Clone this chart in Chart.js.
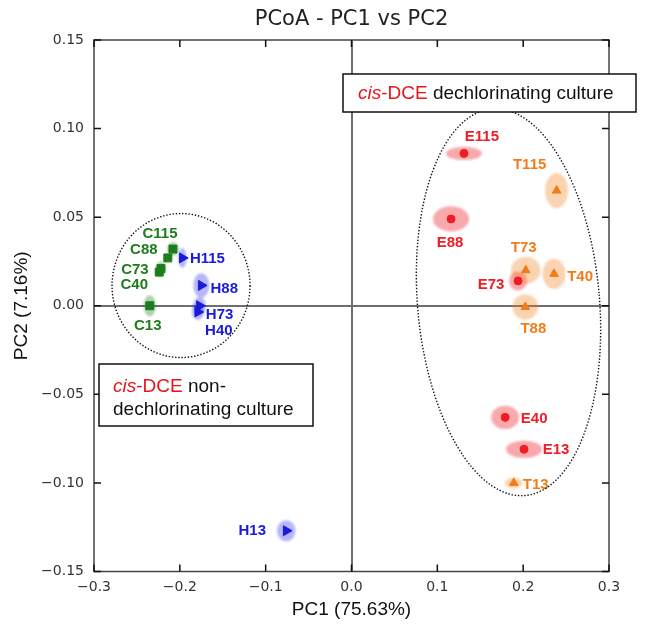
<!DOCTYPE html>
<html>
<head>
<meta charset="utf-8">
<title>PCoA - PC1 vs PC2</title>
<script src="https://cdn.jsdelivr.net/npm/chart.js@4.4.1/dist/chart.umd.min.js"></script>
<style>
  html, body { margin: 0; padding: 0; background: #fff; }
  #wrap { width: 650px; height: 634px; }
</style>
</head>
<body>
<div id="wrap"><canvas id="pcoa" width="650" height="634"></canvas></div>
<script>
// Axis ticks
const xTicks = [-0.3, -0.2, -0.1, 0.0, 0.1, 0.2, 0.3];
const yTicks = [-0.15, -0.10, -0.05, 0.00, 0.05, 0.10, 0.15];

// C samples (green squares)
const cNames = ['C115', 'C88', 'C73', 'C40', 'C13'];
const cPC1 = [-0.208, -0.214, -0.222, -0.224, -0.235];
const cPC2 = [0.032, 0.027, 0.021, 0.019, 0.000];
const cSpreadPC1 = [0.0070, 0.0047, 0.0058, 0.0047, 0.0070];
const cSpreadPC2 = [0.0038, 0.0023, 0.0040, 0.0028, 0.0059];

// H samples (blue triangles, pointing right)
const hNames = ['H115', 'H88', 'H73', 'H40', 'H13'];
const hPC1 = [-0.197, -0.175, -0.177, -0.179, -0.076];
const hPC2 = [0.027, 0.0115, 0.000, -0.0035, -0.127];
const hSpreadPC1 = [0.0049, 0.0093, 0.0073, 0.0070, 0.0108];
const hSpreadPC2 = [0.0056, 0.0069, 0.0051, 0.0045, 0.0059];

// E samples (red circles)
const eNames = ['E115', 'E88', 'E73', 'E40', 'E13'];
const ePC1 = [0.131, 0.116, 0.194, 0.179, 0.201];
const ePC2 = [0.086, 0.049, 0.014, -0.063, -0.081];
const eSpreadPC1 = [0.0210, 0.0210, 0.0105, 0.0163, 0.0210];
const eSpreadPC2 = [0.0038, 0.0071, 0.0054, 0.0066, 0.0049];

// T samples (orange triangles)
const tNames = ['T115', 'T73', 'T40', 'T88', 'T13'];
const tPC1 = [0.239, 0.203, 0.236, 0.2025, 0.189];
const tPC2 = [0.065, 0.020, 0.018, -0.0007, -0.100];
const tSpreadPC1 = [0.0134, 0.0171, 0.0134, 0.0148, 0.0105];
const tSpreadPC2 = [0.0099, 0.0076, 0.0085, 0.0072, 0.0030];

// label placement next to each marker (pixels)
const labelOffsets = {
  C: [[-13, -15], [-24, -8], [-26, 1], [-25, 13], [-2, 20]],
  H: [[25, 1], [23, 3], [20, 9], [21, 19], [-34, 0]],
  E: [[18, -17], [-1, 24], [-27, 4], [29, 1], [32, 1]],
  T: [[-27, -26], [-2, -22], [26, 3], [8, 22], [22, 2]]
};

const toPoints = (xs, ys) => xs.map((x, i) => ({ x: x, y: ys[i] }));

const groups = [
  { key: 'C', names: cNames, xs: cPC1, ys: cPC2, sx: cSpreadPC1, sy: cSpreadPC2,
    color: '#1d7d1d', halo: 'rgba(29,125,29,0.36)', style: 'rect', radius: 5.6, rotation: 0 },
  { key: 'H', names: hNames, xs: hPC1, ys: hPC2, sx: hSpreadPC1, sy: hSpreadPC2,
    color: '#1a1adc', halo: 'rgba(40,40,235,0.34)', style: 'triangle', radius: 5.8, rotation: 90 },
  { key: 'E', names: eNames, xs: ePC1, ys: ePC2, sx: eSpreadPC1, sy: eSpreadPC2,
    color: '#ee1c24', halo: 'rgba(238,28,36,0.38)', style: 'circle', radius: 4, rotation: 0 },
  { key: 'T', names: tNames, xs: tPC1, ys: tPC2, sx: tSpreadPC1, sy: tSpreadPC2,
    color: '#f07d1a', halo: 'rgba(240,125,26,0.34)', style: 'triangle', radius: 5, rotation: 0 }
];

// dotted group outlines: centre in data units, radii in pixels
const outlines = [
  { x: -0.1986, y: 0.0114, rx: 69, ry: 72, rot: 0 },
  { x: 0.1829, y: 0.0020, rx: 91, ry: 194, rot: -0.085 }
];

const fmt = (v, d) => (v < -1e-9 ? '\u2212' : '') + Math.abs(v).toFixed(d);

const haloPlugin = {
  id: 'halos',
  beforeDatasetsDraw(chart) {
    const { ctx, scales: { x, y } } = chart;
    ctx.save();
    ctx.beginPath();
    ctx.rect(chart.chartArea.left, chart.chartArea.top, chart.chartArea.width, chart.chartArea.height);
    ctx.clip();
    ctx.filter = 'blur(1px)';
    groups.forEach(g => {
      ctx.fillStyle = g.halo;
      g.xs.forEach((v, i) => {
        const cx = x.getPixelForValue(v);
        const cy = y.getPixelForValue(g.ys[i]);
        const rx = Math.abs(x.getPixelForValue(v + g.sx[i]) - cx);
        const ry = Math.abs(y.getPixelForValue(g.ys[i] + g.sy[i]) - cy);
        ctx.beginPath();
        ctx.ellipse(cx, cy, rx, ry, 0, 0, Math.PI * 2);
        ctx.fill();
      });
    });
    ctx.restore();

    // frame and inward ticks
    const a = chart.chartArea;
    ctx.save();
    ctx.strokeStyle = '#444';
    ctx.lineWidth = 1.5;
    ctx.strokeRect(a.left, a.top, a.right - a.left, a.bottom - a.top);
    ctx.strokeStyle = '#111';
    const tl = 7;
    ctx.beginPath();
    xTicks.forEach(v => {
      const p = x.getPixelForValue(v);
      ctx.moveTo(p, a.bottom); ctx.lineTo(p, a.bottom - tl);
      ctx.moveTo(p, a.top); ctx.lineTo(p, a.top + tl);
    });
    yTicks.forEach(v => {
      const p = y.getPixelForValue(v);
      ctx.moveTo(a.left, p); ctx.lineTo(a.left + tl, p);
      ctx.moveTo(a.right, p); ctx.lineTo(a.right - tl, p);
    });
    ctx.stroke();
    ctx.restore();
  }
};

function richLine(ctx, x, y, parts) {
  parts.forEach(p => {
    ctx.font = p.font;
    ctx.fillStyle = p.color;
    ctx.fillText(p.text, x, y);
    x += ctx.measureText(p.text).width;
  });
}

const annotatePlugin = {
  id: 'annotate',
  afterDatasetsDraw(chart) {
    const { ctx, scales: { x, y } } = chart;
    ctx.save();
    // sample labels
    ctx.font = 'bold 15px "Liberation Sans", Arial, sans-serif';
    ctx.textAlign = 'center';
    ctx.textBaseline = 'middle';
    groups.forEach(g => {
      ctx.fillStyle = g.color;
      g.names.forEach((n, i) => {
        const off = labelOffsets[g.key][i];
        ctx.fillText(n, x.getPixelForValue(g.xs[i]) + off[0], y.getPixelForValue(g.ys[i]) + off[1]);
      });
    });
    // dotted outlines
    ctx.strokeStyle = '#111';
    ctx.lineWidth = 1.4;
    ctx.setLineDash([1.4, 1.8]);
    outlines.forEach(o => {
      ctx.beginPath();
      ctx.ellipse(x.getPixelForValue(o.x), y.getPixelForValue(o.y), o.rx, o.ry, o.rot, 0, Math.PI * 2);
      ctx.stroke();
    });
    ctx.restore();
  },
  afterDraw(chart) {
    const { ctx } = chart;
    const a = chart.chartArea;
    ctx.save();
    // title
    ctx.font = '21px "DejaVu Sans", sans-serif';
    ctx.fillStyle = '#222';
    ctx.textAlign = 'center';
    ctx.textBaseline = 'middle';
    ctx.fillText('PCoA - PC1 vs PC2', (a.left + a.right) / 2, 20);

    // boxes
    const ital = 'italic 19px "Liberation Sans", Arial, sans-serif';
    const reg = '19px "Liberation Sans", Arial, sans-serif';
    const red = '#e8141c';
    ctx.lineWidth = 1.5;
    ctx.strokeStyle = '#111';
    ctx.fillStyle = '#fff';
    ctx.fillRect(343, 74, 293, 38);
    ctx.strokeRect(343, 74, 293, 38);
    ctx.fillStyle = '#fff';
    ctx.fillRect(99, 364, 214, 62);
    ctx.strokeRect(99, 364, 214, 62);
    ctx.textAlign = 'left';
    ctx.textBaseline = 'middle';
    richLine(ctx, 358, 94, [
      { text: 'cis', font: ital, color: red },
      { text: '-DCE', font: reg, color: red },
      { text: ' dechlorinating culture', font: reg, color: '#111' }
    ]);
    richLine(ctx, 113, 387, [
      { text: 'cis', font: ital, color: red },
      { text: '-DCE', font: reg, color: red },
      { text: ' non-', font: reg, color: '#111' }
    ]);
    richLine(ctx, 113, 410, [
      { text: 'dechlorinating culture', font: reg, color: '#111' }
    ]);
    ctx.restore();
  }
};

const tickFont = { family: '"DejaVu Sans", sans-serif', size: 14 };
const axisTitleFont = { family: '"Liberation Sans", Arial, sans-serif', size: 19 };
const zeroGrid = c => (c.tick && Math.abs(c.tick.value) < 1e-9 ? '#6e6e6e' : 'rgba(0,0,0,0)');

new Chart(document.getElementById('pcoa'), {
  type: 'scatter',
  data: {
    datasets: groups.map(g => ({
      label: g.key,
      data: toPoints(g.xs, g.ys),
      pointStyle: g.style,
      pointRadius: g.radius,
      pointRotation: g.rotation,
      backgroundColor: g.color,
      borderColor: g.color,
      borderWidth: 1
    }))
  },
  options: {
    responsive: false,
    animation: false,
    layout: { padding: { top: 40, right: 41, left: 0, bottom: 0 } },
    plugins: {
      legend: { display: false },
      tooltip: { enabled: false },
      title: { display: false }
    },
    scales: {
      x: {
        type: 'linear',
        min: -0.3,
        max: 0.3,
        afterBuildTicks: s => { s.ticks = xTicks.map(v => ({ value: v })); },
        afterFit: s => { s.height = 62.5; },
        ticks: { callback: v => fmt(v, 1), font: tickFont, color: '#333', padding: 7, maxRotation: 0 },
        grid: { color: zeroGrid, lineWidth: 2, drawTicks: false },
        border: { display: false },
        title: { display: true, text: 'PC1 (75.63%)', font: axisTitleFont, color: '#111', padding: { top: 0, bottom: 13 } }
      },
      y: {
        type: 'linear',
        min: -0.15,
        max: 0.15,
        afterBuildTicks: s => { s.ticks = yTicks.map(v => ({ value: v })); },
        afterFit: s => { s.width = 94; },
        ticks: { callback: v => fmt(v, 2), font: tickFont, color: '#333', padding: 10 },
        grid: { color: zeroGrid, lineWidth: 2, drawTicks: false },
        border: { display: false },
        title: { display: true, text: 'PC2 (7.16%)', font: axisTitleFont, color: '#111', padding: { top: 10, bottom: 0 } }
      }
    }
  },
  plugins: [haloPlugin, annotatePlugin]
});
</script>
</body>
</html>
